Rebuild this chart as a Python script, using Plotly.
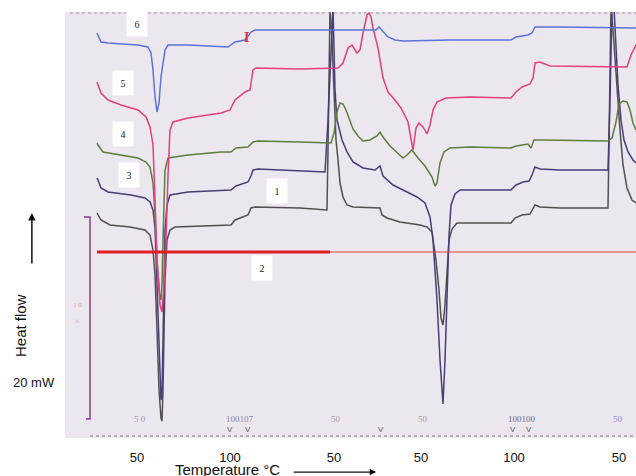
import plotly.graph_objects as go

# === Data ===
# scan position along the recorder trace (x) and heat flow in arbitrary units (y)
tick_pos = [137, 230, 334, 421, 514, 619]
tick_labels = ["50", "100", "50", "50", "100", "50"]

# curve 6 (blue)
curve6_pos = [97, 98, 101, 108, 138, 148, 151, 153, 155, 157, 159, 161, 165, 168, 188, 228, 235, 245, 251, 255,
              300, 340, 376, 379, 383, 388, 395, 403, 450, 511, 516, 528, 532, 535, 560, 636]
curve6_hf = [405, 403, 396, 395, 393, 391, 385, 368, 341, 326, 335, 361, 388, 393, 393, 391, 396, 398, 406, 408,
             408, 408, 408, 411, 407, 401, 398, 397, 398, 398, 401, 403, 405, 411, 411, 410]

# curve 5 (pink)
curve5_pos = [97, 98, 101, 108, 121, 138, 146, 150, 153, 155, 157, 160, 162, 164, 166, 168, 170, 173, 188, 221,
              230, 235, 245, 250, 253, 256, 300, 338, 343, 348, 352, 357, 360, 363, 367, 369, 371, 373, 378, 383,
              388, 395, 401, 408, 413, 416, 419, 423, 427, 430, 433, 437, 446, 470, 511, 516, 522, 530, 533, 535,
              540, 550, 600, 627, 631, 634, 636]
curve5_hf = [356, 353, 345, 338, 333, 328, 321, 311, 293, 238, 178, 133, 126, 153, 198, 263, 308, 316, 320, 325,
             328, 338, 346, 348, 368, 370, 369, 370, 375, 390, 393, 385, 388, 405, 423, 425, 421, 410, 390, 360,
             346, 338, 330, 316, 288, 310, 315, 311, 304, 313, 328, 336, 340, 341, 340, 346, 351, 354, 360, 375,
             376, 372, 371, 371, 383, 390, 393]

# curve 4 (green)
curve4_pos = [97, 98, 103, 121, 138, 146, 150, 153, 155, 157, 160, 161, 162, 163, 164, 165, 168, 188, 221, 231,
              236, 248, 253, 258, 300, 331, 334, 337, 340, 343, 346, 349, 353, 358, 363, 370, 377, 380, 383, 390,
              397, 403, 407, 412, 418, 425, 432, 435, 437, 440, 444, 450, 470, 511, 516, 528, 531, 534, 545, 608,
              612, 616, 619, 623, 627, 630, 633, 636]
curve4_hf = [295, 293, 286, 283, 280, 276, 271, 255, 225, 178, 140, 138, 153, 198, 243, 268, 280, 283, 286, 286,
             290, 291, 296, 297, 296, 295, 305, 326, 335, 334, 328, 319, 309, 302, 297, 298, 302, 306, 301, 292,
             286, 280, 283, 288, 280, 272, 261, 252, 255, 275, 286, 290, 291, 290, 292, 294, 290, 298, 298, 297,
             300, 316, 334, 337, 336, 328, 315, 308]

# curve 3 (purple)
curve3_pos = [97, 98, 101, 108, 131, 145, 150, 153, 155, 157, 159, 161, 162, 163, 164, 165, 167, 170, 188, 228,
              231, 236, 248, 251, 253, 258, 300, 325, 328, 331, 333, 335, 337, 342, 347, 353, 363, 375, 380, 383,
              393, 403, 417, 425, 430, 433, 437, 440, 443, 445, 447, 449, 451, 455, 460, 470, 511, 516, 523, 529,
              532, 535, 540, 560, 608, 610, 612, 614, 616, 618, 621, 624, 628, 633, 636]
curve3_hf = [260, 258, 250, 246, 243, 240, 236, 228, 211, 148, 78, 38, 43, 98, 158, 208, 233, 243, 246, 248,
             248, 252, 256, 262, 268, 269, 267, 266, 318, 398, 430, 348, 318, 298, 286, 276, 270, 268, 272, 262,
             253, 248, 241, 235, 221, 198, 138, 78, 34, 78, 148, 202, 233, 244, 248, 248, 248, 253, 256, 257,
             263, 271, 269, 268, 268, 338, 430, 430, 383, 353, 318, 298, 286, 278, 275]

# curve 1 (grey-black)
curve1_pos = [97, 98, 101, 110, 130, 145, 150, 153, 155, 157, 159, 161, 162, 163, 164, 165, 167, 170, 175, 228,
              231, 235, 248, 251, 255, 300, 327, 328, 329, 330, 332, 334, 336, 338, 340, 343, 347, 353, 373, 380,
              382, 387, 400, 420, 427, 432, 436, 439, 441, 443, 445, 447, 449, 452, 457, 470, 511, 515, 522, 530,
              532, 535, 540, 560, 608, 609, 610, 611, 613, 615, 617, 620, 623, 627, 632, 636]
curve1_hf = [225, 223, 218, 213, 211, 208, 203, 188, 163, 108, 48, 20, 17, 48, 108, 158, 198, 208, 211, 213,
             213, 218, 223, 230, 231, 230, 228, 288, 398, 430, 398, 338, 298, 278, 255, 241, 233, 231, 230, 230,
             223, 220, 216, 213, 211, 206, 178, 148, 120, 113, 133, 168, 198, 209, 215, 215, 215, 220, 223, 224,
             228, 233, 231, 230, 230, 288, 378, 430, 408, 378, 353, 308, 273, 250, 238, 235]

# curve 2 (red, flat)
curve2_pos = [97, 330, 636]
curve2_hf = [186, 186, 186]

# recorder scale bar on the left
scale_pos = [84, 90, 90, 86]
scale_hf = [221, 221, 19, 19]

# small chart-paper marks near the bottom edge
paper_label_pos = [140, 240, 336, 423, 522, 618]
paper_label_text = ["5 0", "100107", "50", "50", "100100", "50"]
paper_label_color = ["#a898a8", "#8a8a9a", "#a898a8", "#a898a8", "#6a6a7a", "#7f8fd0"]
v_mark_pos = [230, 248, 381, 513, 529]

# curve number boxes: (label, pos, hf)
box_labels = ["6", "5", "4", "3", "1", "2"]
box_pos = [137, 123, 123, 129, 277, 262]
box_hf = [414, 355, 304, 263, 247, 170]

fig = go.Figure()

fig.add_trace(go.Scatter(x=scale_pos, y=scale_hf, mode="lines",
                         line=dict(color="#8a3a9a", width=1.5)))

curves = [
    (curve1_pos, curve1_hf, "#505050"),
    (curve3_pos, curve3_hf, "#4b3b78"),
    (curve4_pos, curve4_hf, "#5a7f3a"),
    (curve5_pos, curve5_hf, "#e0407e"),
    (curve6_pos, curve6_hf, "#5b73d9"),
]
for xs, ys, col in curves:
    fig.add_trace(go.Scatter(x=xs, y=ys, mode="lines", line=dict(color=col, width=1.5)))

# red line: thick at first, thinner further on
fig.add_trace(go.Scatter(x=curve2_pos[:2], y=curve2_hf[:2], mode="lines",
                         line=dict(color="#e02020", width=3)))
fig.add_trace(go.Scatter(x=curve2_pos[1:], y=curve2_hf[1:], mode="lines",
                         line=dict(color="#e04040", width=1.2)))

annotations = []
for lab, px, hf in zip(box_labels, box_pos, box_hf):
    annotations.append(dict(x=px, y=hf, text=lab, showarrow=False, bgcolor="white",
                            width=20, height=24, borderpad=0,
                            font=dict(family="Liberation Serif", size=10, color="#222")))

for px, txt, col in zip(paper_label_pos, paper_label_text, paper_label_color):
    annotations.append(dict(x=px, y=19, text=txt, showarrow=False,
                            font=dict(family="Liberation Serif", size=9, color=col)))
for px in v_mark_pos:
    annotations.append(dict(x=px, y=9, text="V", showarrow=False,
                            font=dict(family="Liberation Sans", size=8, color="#555")))

# red marker near curve 6
annotations.append(dict(x=246, y=401, text="<b>I</b>", showarrow=False,
                        font=dict(family="Liberation Serif", size=14, color="#e03040")))
# faint scan marks
annotations.append(dict(x=77, y=133, text="1 0", showarrow=False,
                        font=dict(family="Liberation Serif", size=7, color="#d8a0b0")))
annotations.append(dict(x=77, y=117, text="×", showarrow=False,
                        font=dict(family="Liberation Serif", size=8, color="#c89aa8")))

# axis texts (outside the plot area, so in paper coordinates)
annotations.append(dict(xref="paper", yref="paper", x=-0.079, y=0.265, text="Heat flow",
                        textangle=-90, showarrow=False, xanchor="center", yanchor="middle",
                        font=dict(family="Liberation Sans", size=15, color="#111")))
annotations.append(dict(xref="paper", yref="paper", x=-0.054, y=0.131, text="20 mW",
                        showarrow=False, xanchor="center", yanchor="middle",
                        font=dict(family="Liberation Sans", size=13, color="#111")))
annotations.append(dict(xref="paper", yref="paper", x=-0.058, y=0.528, ax=0, ay=52,
                        text="", showarrow=True,
                        arrowhead=2, arrowsize=1, arrowwidth=1.5, arrowcolor="#111"))
annotations.append(dict(xref="paper", yref="paper", x=0.284, y=-0.075, text="Temperature °C",
                        showarrow=False, xanchor="center", yanchor="middle",
                        font=dict(family="Liberation Sans", size=15, color="#111")))
annotations.append(dict(xref="paper", yref="paper", x=0.545, y=-0.080, ax=-84, ay=0,
                        text="", showarrow=True,
                        arrowhead=2, arrowsize=1, arrowwidth=1.3, arrowcolor="#111"))

fig.update_layout(
    width=636,
    height=476,
    margin=dict(l=65, r=0, t=12, b=38),
    paper_bgcolor="white",
    plot_bgcolor="#ece6ef",
    showlegend=False,
    annotations=annotations,
    shapes=[
        dict(type="line", xref="x", yref="y", x0=90, x1=636, y0=2, y1=2,
             line=dict(color="#777", width=1, dash="dot")),
        dict(type="line", xref="x", yref="y", x0=70, x1=636, y0=425, y1=425,
             line=dict(color="#999", width=1, dash="dot")),
    ],
    xaxis=dict(range=[65, 636], showgrid=False, zeroline=False, showline=False,
               tickvals=tick_pos, ticktext=tick_labels, ticks="outside", ticklen=7,
               tickcolor="rgba(0,0,0,0)",
               tickfont=dict(family="Liberation Sans", size=13, color="#111")),
    yaxis=dict(range=[0, 426], showgrid=False, zeroline=False, showline=False,
               showticklabels=False),
)

fig.write_html("out.html", config={"displayModeBar": False},
               post_script="document.body.style.margin='0';")
